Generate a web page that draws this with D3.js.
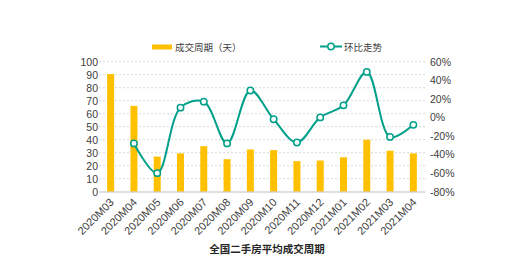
<!DOCTYPE html>
<html>
<head>
  <meta charset="utf-8" />
  <title>全国二手房平均成交周期</title>
  <script src="https://d3js.org/d3.v7.min.js"></script>
  <style>
    body { margin: 0; background: #fff; }
    svg text { font-family: "Liberation Sans", "Noto Sans CJK SC", sans-serif; fill: #404040; }
  </style>
</head>
<body>
  <div id="chart"></div>
  <script type="text/javascript">

    // data
    var months = ["2020M03", "2020M04", "2020M05", "2020M06", "2020M07", "2020M08", "2020M09",
      "2020M10", "2020M11", "2020M12", "2021M01", "2021M02", "2021M03", "2021M04"];
    var cycleDays = [90.5, 66, 27, 29.5, 35, 25, 32.5, 32, 23.5, 24, 26.5, 40, 31.5, 29.5];
    var momChange = [null, -28, -60, 10.5, 17, -28, 29, -2, -27, 0, 13, 49, -21, -8];
    var leftTicks = [0, 10, 20, 30, 40, 50, 60, 70, 80, 90, 100];
    var rightTicks = [-80, -60, -40, -20, 0, 20, 40, 60];
    var barName = "成交周期（天）";
    var lineName = "环比走势";
    var title = "全国二手房平均成交周期";

    var width = 515, height = 268;
    var barColor = "#FFC000", lineColor = "#00A08A";

    var svg = d3.select("#chart").append("svg")
      .attr("width", width)
      .attr("height", height);

    var x = d3.scaleBand().domain(months).range([99, 425]);
    var yL = d3.scaleLinear().domain([0, 100]).range([191.7, 61.7]);
    var yR = d3.scaleLinear().domain([-80, 60]).range([191.7, 61.7]);

    /* dotted grid */
    svg.append("g").selectAll("line")
      .data(leftTicks.slice(1))
      .enter().append("line")
      .attr("x1", 99).attr("x2", 425)
      .attr("y1", d => yL(d)).attr("y2", d => yL(d))
      .style("stroke", "#d9d9d9")
      .style("stroke-dasharray", "2,2");

    /* left axis */
    var gl = svg.append("g")
      .attr("transform", "translate(99,0)")
      .call(d3.axisLeft(yL).tickValues(leftTicks).tickSize(0).tickPadding(1));
    gl.select(".domain").remove();
    gl.selectAll("text").style("font-size", "10.5px");

    /* right axis */
    var gr = svg.append("g")
      .attr("transform", "translate(425,0)")
      .call(d3.axisRight(yR).tickValues(rightTicks).tickSize(0).tickPadding(5)
        .tickFormat(d => d + "%"));
    gr.select(".domain").remove();
    gr.selectAll("text").style("font-size", "10.5px");

    /* bars */
    svg.append("g").selectAll("rect")
      .data(cycleDays)
      .enter().append("rect")
      .attr("x", (d, i) => x(months[i]) + x.bandwidth() / 2 - 3.5)
      .attr("width", 7)
      .attr("y", d => yL(d))
      .attr("height", d => yL(0) - yL(d))
      .style("fill", barColor);

    /* bottom axis */
    var gb = svg.append("g")
      .attr("transform", "translate(0,192)")
      .call(d3.axisBottom(x).tickSize(0).tickPadding(0));
    gb.select(".domain").style("stroke", "#bfbfbf").attr("d", "M99,0H425");
    gb.selectAll("text")
      .style("font-size", "11px")
      .style("text-anchor", "end")
      .attr("dy", 0)
      .attr("transform", "translate(4,11) rotate(-45)");

    /* line */
    var pts = momChange.map((d, i) => ({ m: months[i], v: d })).filter(d => d.v !== null);
    var line = d3.line()
      .x(d => x(d.m) + x.bandwidth() / 2)
      .y(d => yR(d.v))
      .curve(d3.curveCatmullRom.alpha(0.5));
    svg.append("path")
      .datum(pts)
      .attr("d", line)
      .style("fill", "none")
      .style("stroke", lineColor)
      .style("stroke-width", 2);
    svg.append("g").selectAll("circle")
      .data(pts)
      .enter().append("circle")
      .attr("cx", d => x(d.m) + x.bandwidth() / 2)
      .attr("cy", d => yR(d.v))
      .attr("r", 3.2)
      .style("fill", "#fff")
      .style("stroke", lineColor)
      .style("stroke-width", 1.5);

    /* legend */
    var lg = svg.append("g");
    lg.append("rect").attr("x", 152).attr("y", 44.5).attr("width", 20).attr("height", 5)
      .style("fill", barColor);
    lg.append("text").attr("x", 175).attr("y", 50.5).text(barName).style("font-size", "9.5px");
    lg.append("line").attr("x1", 320).attr("x2", 342).attr("y1", 46.5).attr("y2", 46.5)
      .style("stroke", lineColor).style("stroke-width", 2);
    lg.append("circle").attr("cx", 331).attr("cy", 46.5).attr("r", 3.2)
      .style("fill", "#fff").style("stroke", lineColor).style("stroke-width", 1.5);
    lg.append("text").attr("x", 344).attr("y", 50.5).text(lineName).style("font-size", "9.5px");

    /* title */
    svg.append("text")
      .attr("x", 267).attr("y", 253)
      .attr("text-anchor", "middle")
      .style("font-size", "10.5px")
      .style("font-weight", "bold")
      .style("fill", "#262626")
      .text(title);
  </script>
</body>
</html>
